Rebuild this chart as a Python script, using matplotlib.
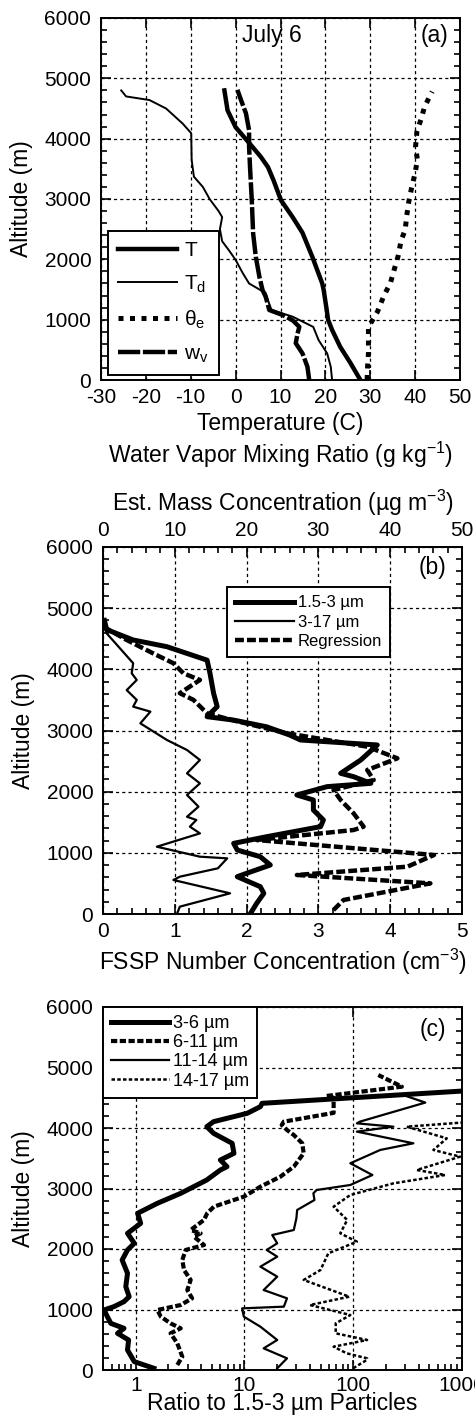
import matplotlib
matplotlib.use("Agg")
import matplotlib.pyplot as plt
from matplotlib.ticker import MultipleLocator, LogLocator, FixedLocator, FuncFormatter, NullFormatter
from matplotlib.lines import Line2D

plt.rcParams.update({
    'font.family': ['Liberation Sans', 'DejaVu Sans'],
    'mathtext.fontset': 'custom',
    'mathtext.rm': 'Liberation Sans',
    'mathtext.it': 'Liberation Sans',
    'mathtext.bf': 'Liberation Sans:bold',
    'axes.linewidth': 1.4,
    'axes.unicode_minus': False,
})

# ---------------- Panel (a) data ----------------
T_alt = [0, 280, 550, 830, 1000, 1160, 1500, 1600, 2040, 2440, 2700, 2980, 3300, 3530, 3700, 3930, 4190, 4470, 4800]
T_val = [27.8, 25.6, 23.3, 21.5, 20.6, 20.3, 19.6, 19.3, 17.1, 14.9, 12.7, 10.1, 8.5, 7.2, 5.6, 3.0, 0.0, -1.8, -2.5]

Td_alt = [0, 220, 440, 660, 880, 1050, 1160, 1300, 1440, 1600, 1770, 1990, 2150, 2300, 2500, 2700, 2800, 3000,
          3200, 3370, 3650, 4090, 4250, 4500, 4640, 4700, 4800]
Td_val = [21.5, 21.2, 20.4, 18.5, 17.3, 12.7, 8.0, 7.3, 6.7, 3.0, 1.6, 0.0, -1.5, -3.0, -3.5, -3.0, -3.8, -5.8,
          -7.3, -9.3, -9.8, -9.9, -11.8, -15.5, -19.2, -24.4, -25.5]

the_alt = [0, 220, 440, 880, 940, 1130, 1390, 1610, 1820, 2050, 2320, 2490, 2710, 2960, 3180, 3430, 3650, 3870,
           4120, 4340, 4530, 4780]
the_val = [29.3, 29.4, 29.6, 29.6, 30.1, 31.6, 33.0, 34.5, 35.3, 36.2, 36.9, 37.8, 38.1, 38.6, 39.2, 40.0, 40.5,
           40.1, 40.4, 41.4, 42.1, 43.8]

wv_alt = [0, 220, 440, 610, 770, 880, 990, 1080, 1160, 1380, 1490, 1710, 2040, 2430, 2980, 3540, 3870, 4140,
          4420, 4640, 4810]
wv_val = [16.4, 16.0, 14.9, 13.4, 13.8, 14.2, 12.7, 10.4, 7.5, 6.7, 6.0, 5.3, 4.5, 3.9, 3.6, 3.2, 3.0, 3.0,
          2.3, 1.2, 0.4]

# ---------------- Panel (b) data ----------------
n15_alt = [0, 174, 338, 447, 610, 665, 801, 937, 1046, 1155, 1264, 1428, 1537, 1700, 1864, 1946, 2082, 2136,
           2245, 2300, 2518, 2763, 2845, 2926, 3060, 3170, 3226, 3390, 3610, 3935, 4150, 4370, 4480, 4650, 4800]
n15_val = [2.05, 2.14, 2.24, 2.19, 1.87, 2.0, 2.33, 2.19, 1.87, 1.82, 2.28, 3.03, 3.07, 2.93, 2.93, 2.7, 3.12,
           3.73, 3.49, 3.31, 3.59, 3.82, 2.75, 2.6, 2.28, 1.82, 1.45, 1.59, 1.54, 1.49, 1.45, 0.89, 0.42, 0.05, 0.02]

n317_alt = [0, 120, 338, 556, 610, 747, 910, 937, 1100, 1318, 1428, 1537, 1590, 1755, 1946, 2136, 2300, 2518,
            2681, 2845, 3117, 3308, 3390, 3500, 3660, 3826, 3935, 4100, 4590, 4780]
n317_val = [1.03, 1.07, 1.77, 0.98, 1.07, 1.6, 1.73, 1.35, 0.75, 1.35, 1.21, 1.3, 1.17, 1.33, 1.17, 1.35, 1.17,
            1.35, 1.17, 0.89, 0.52, 0.66, 0.42, 0.47, 0.33, 0.47, 0.4, 0.42, 0.05, 0.0]

reg_alt = [65, 229, 501, 638, 774, 965, 1210, 1373, 1428, 1646, 1864, 2027, 2190, 2354, 2545, 2736, 2955, 3170,
           3280, 3500, 3610, 3826, 3935, 4100, 4260, 4480, 4700]
reg_val = [3.21, 3.35, 4.56, 2.7, 4.24, 4.61, 2.14, 3.49, 3.63, 3.49, 3.31, 3.21, 3.77, 3.68, 4.1, 3.68, 2.56,
           1.8, 1.45, 1.26, 1.07, 1.35, 1.12, 0.98, 0.7, 0.33, 0.0]

# ---------------- Panel (c) data ----------------
r36_alt = [28, 138, 331, 496, 606, 689, 771, 992, 1047, 1130, 1212, 1378, 1598, 1818, 1984, 2094, 2259, 2424,
           2590, 2755, 2920, 3141, 3306, 3361, 3471, 3582, 3747, 3912, 4022, 4105, 4243, 4353, 4408, 4630]
r36_val = [1.47, 0.97, 0.84, 0.86, 0.68, 0.78, 0.59, 0.51, 0.63, 0.78, 0.87, 0.81, 0.84, 0.75, 0.84, 0.97, 0.84,
           1.11, 1.04, 1.58, 2.59, 4.5, 6.0, 6.9, 6.0, 8.0, 7.7, 5.2, 4.5, 5.2, 10.6, 14.0, 14.5, 1500]

r611_alt = [83, 220, 441, 606, 689, 771, 882, 992, 1074, 1185, 1322, 1488, 1653, 1818, 1984, 2066, 2204, 2259,
            2314, 2480, 2590, 2700, 2865, 3030, 3196, 3361, 3582, 3747, 3884, 3967, 4050, 4105, 4250, 4500,
            4530, 4683, 4876]
r611_val = [2.41, 2.68, 2.41, 2.09, 2.59, 2.09, 1.7, 1.58, 2.59, 3.3, 2.98, 3.2, 2.78, 2.68, 2.88, 4.24, 3.43,
            3.95, 3.2, 4.24, 4.54, 5.23, 9.86, 14.0, 21.4, 28.4, 35.0, 34.0, 28.4, 24.6, 22.0, 23.0, 66.0, 66.0,
            57.0, 280.0, 170.0]

r1114_alt = [28, 193, 358, 496, 716, 882, 1019, 1047, 1185, 1322, 1543, 1708, 1873, 1984, 2094, 2231, 2314,
             2507, 2645, 2810, 2920, 2975, 3058, 3223, 3417, 3637, 3747, 3940, 4022, 4077, 4105, 4420, 4546]
r1114_val = [20, 24.6, 15, 20, 14, 9.86, 9.5, 23, 24.6, 15, 20, 14, 20, 16, 20, 18, 28.4, 30, 30.5, 44, 43, 46,
             94, 150, 94, 177, 357, 108, 234, 108, 115, 460, 287]

r1417_alt = [30, 165, 193, 276, 385, 496, 606, 771, 909, 1074, 1212, 1488, 1653, 1929, 2121, 2259, 2480, 2700,
             2893, 3085, 3223, 3306, 3526, 3637, 3829, 4022, 4105]
r1417_val = [100, 133, 134, 87, 66, 134, 69, 69, 94, 40, 92, 35, 50, 59, 108, 76, 88, 66, 94, 234, 700, 384, 960,
             546, 724, 310, 1300]

# ---------------- figure ----------------
fig = plt.figure(figsize=(4.75, 14.25), dpi=100)
W, H = 475.0, 1425.0
ax_a = fig.add_axes([101 / W, 1 - 380 / H, 359 / W, 362 / H])
ax_b = fig.add_axes([103 / W, 1 - 914 / H, 359 / W, 367 / H])
ax_c = fig.add_axes([103 / W, 1 - 1370 / H, 359 / W, 363 / H])

grid_kw = dict(color='black', linestyle=(0, (2.5, 2.5)), linewidth=0.9)
LAB = 16.5
TICK = 15


def style(ax, ylab_x):
    ax.set_ylim(0, 6000)
    ax.yaxis.set_major_locator(MultipleLocator(1000))
    ax.yaxis.set_minor_locator(MultipleLocator(200))
    ax.tick_params(which='both', direction='in', right=True, labelsize=TICK, width=1.2, pad=6)
    ax.tick_params(axis='y', which='both', pad=7)
    ax.tick_params(which='major', length=7)
    ax.tick_params(which='minor', length=4)
    ax.grid(True, which='major', **grid_kw)
    ax.set_axisbelow(False)
    ax.set_ylabel('Altitude (m)', fontsize=LAB)
    ax.yaxis.set_label_coords(ylab_x, 0.5)


# ---- (a)
ax = ax_a
ax.plot(T_val, T_alt, color='black', lw=3.2, solid_joinstyle='round')
ax.plot(Td_val, Td_alt, color='black', lw=1.4)
ax.plot(the_val, the_alt, color='black', lw=3.6, linestyle=(0, (1.0, 1.3)))
ax.plot(wv_val, wv_alt, color='black', lw=3.2, linestyle=(0, (5, 0.6)))
ax.set_xlim(-30, 50)
ax.xaxis.set_major_locator(MultipleLocator(10))
style(ax, -0.19)
ax.tick_params(top=True)
ax.set_xlabel('Temperature (C)', fontsize=LAB)
ax.xaxis.set_label_coords(0.5, -0.088)
ax.text(0.5, -0.165, 'Water Vapor Mixing Ratio (g kg$^{-1}$)', transform=ax.transAxes,
        ha='center', va='top', fontsize=LAB)
ax.text(0.476, 0.953, 'July 6', transform=ax.transAxes, ha='center', va='center', fontsize=LAB)
ax.text(0.928, 0.953, '(a)', transform=ax.transAxes, ha='center', va='center', fontsize=LAB)
hand_a = [Line2D([], [], color='black', lw=3.2),
          Line2D([], [], color='black', lw=1.4),
          Line2D([], [], color='black', lw=3.6, linestyle=(0, (1.0, 1.3))),
          Line2D([], [], color='black', lw=3.2, linestyle=(0, (5, 0.6)))]
lab_a = ['T', r'T$_{\rm d}$', r'$\theta_{\rm e}$', r'w$_{\rm v}$']
leg = ax.legend(hand_a, lab_a, loc='lower left', bbox_to_anchor=(0.0195, 0.014), borderaxespad=0,
                fontsize=15, handlelength=2.8, handletextpad=0.35, labelspacing=0.65, borderpad=0.5,
                fancybox=False, framealpha=1, edgecolor='black')
leg.get_frame().set_linewidth(1.4)

# ---- (b)
ax = ax_b
ax.plot(n15_val, n15_alt, color='black', lw=3.6)
ax.plot(n317_val, n317_alt, color='black', lw=1.6)
ax.plot(reg_val, reg_alt, color='black', lw=3.2, linestyle=(0, (2.0, 0.7)))
ax.set_xlim(0, 5)
ax.xaxis.set_major_locator(MultipleLocator(1))
ax.xaxis.set_minor_locator(MultipleLocator(0.2))
style(ax, -0.19)
ax.tick_params(top=False)
ax.set_xlabel('FSSP Number Concentration (cm$^{-3}$)', fontsize=LAB)
ax.xaxis.set_label_coords(0.5, -0.09)
sec = ax.secondary_xaxis('top', functions=(lambda x: x * 10, lambda x: x / 10))
sec.xaxis.set_major_locator(MultipleLocator(10))
sec.xaxis.set_minor_locator(MultipleLocator(2))
sec.tick_params(which='both', direction='in', labelsize=TICK, width=1.2, pad=5)
sec.tick_params(which='major', length=7)
sec.tick_params(which='minor', length=4)
ax.text(0.5, 1.08, 'Est. Mass Concentration (µg m$^{-3}$)', transform=ax.transAxes,
        ha='center', va='bottom', fontsize=LAB)
ax.text(0.919, 0.943, '(b)', transform=ax.transAxes, ha='center', va='center', fontsize=LAB)
hand_b = [Line2D([], [], color='black', lw=3.6),
          Line2D([], [], color='black', lw=1.6),
          Line2D([], [], color='black', lw=3.2, linestyle=(0, (2.0, 0.7)))]
leg = ax.legend(hand_b, ['1.5-3 µm', '3-17 µm', 'Regression'], loc='upper left',
                bbox_to_anchor=(0.345, 0.891), borderaxespad=0, fontsize=12, handlelength=3.5,
                handletextpad=0.25, labelspacing=0.25, borderpad=0.5, fancybox=False, framealpha=1,
                edgecolor='black')
leg.get_frame().set_linewidth(1.4)

# ---- (c)
ax = ax_c
ax.plot(r36_val, r36_alt, color='black', lw=3.6)
ax.plot(r611_val, r611_alt, color='black', lw=3.0, linestyle=(0, (1.5, 0.6)))
ax.plot(r1114_val, r1114_alt, color='black', lw=1.6)
ax.plot(r1417_val, r1417_alt, color='black', lw=1.8, linestyle=(0, (1.4, 0.9)))
ax.set_xscale('log')
ax.set_xlim(0.5, 1000)
ax.xaxis.set_major_locator(FixedLocator([1, 10, 100, 1000]))
ax.xaxis.set_major_formatter(FuncFormatter(lambda v, p: f"{v:g}"))
ax.xaxis.set_minor_locator(LogLocator(base=10, subs=range(2, 10)))
ax.xaxis.set_minor_formatter(NullFormatter())
style(ax, -0.19)
ax.tick_params(top=True)
ax.tick_params(axis='x', which='both', pad=4)
ax.set_xlabel('Ratio to 1.5-3 µm Particles', fontsize=LAB)
ax.xaxis.set_label_coords(0.5, -0.06)
ax.text(0.919, 0.937, '(c)', transform=ax.transAxes, ha='center', va='center', fontsize=LAB)
hand_c = [Line2D([], [], color='black', lw=3.6),
          Line2D([], [], color='black', lw=3.0, linestyle=(0, (1.5, 0.6))),
          Line2D([], [], color='black', lw=1.6),
          Line2D([], [], color='black', lw=1.8, linestyle=(0, (1.4, 0.9)))]
leg = ax.legend(hand_c, ['3-6 µm', '6-11 µm', '11-14 µm', '14-17 µm'], loc='upper left',
                bbox_to_anchor=(0.0, 1.0), borderaxespad=0, fontsize=13, handlelength=3.2,
                handletextpad=0.2, labelspacing=0.12, borderpad=0.45, fancybox=False, framealpha=1,
                edgecolor='black')
leg.get_frame().set_linewidth(1.4)

fig.savefig('out.png', dpi=100)
